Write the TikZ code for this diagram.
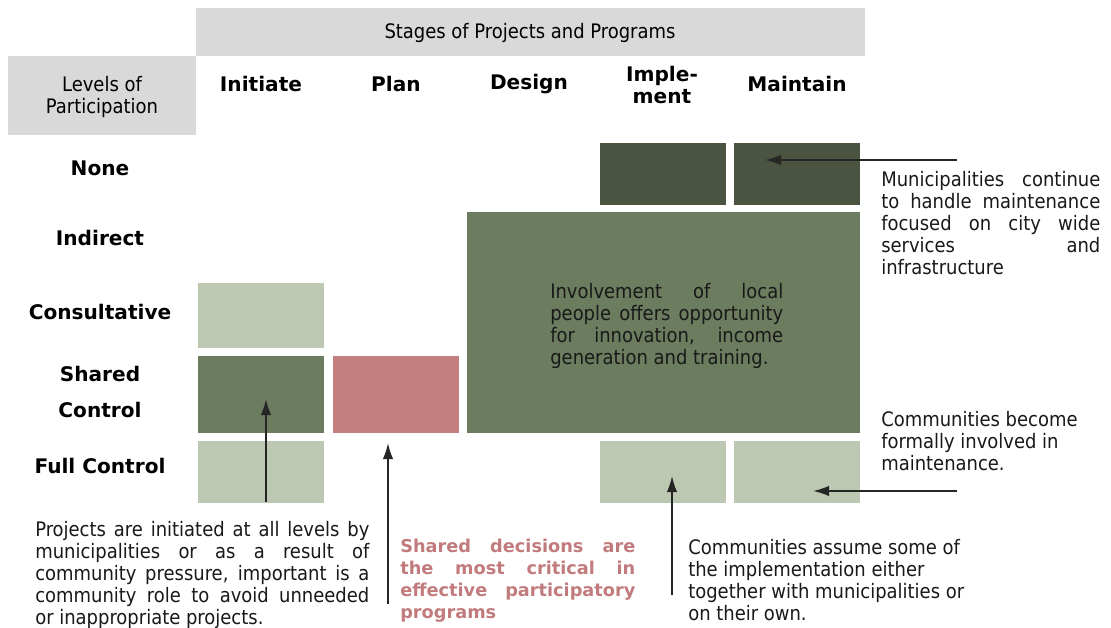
\documentclass[tikz,border=0pt]{standalone}
\usepackage{fontspec}
\setmainfont{DejaVu Sans Condensed}
\newfontfamily\headfont{DejaVu Sans}
\usepackage{xcolor}
\usepackage{tikz}
\usetikzlibrary{
    positioning,
    arrows.meta
}
\definecolor{hdrgray}{HTML}{D9D9D9}
\definecolor{darkolive}{HTML}{4B5441}
\definecolor{midolive}{HTML}{6B7C5F}
\definecolor{paleolive}{HTML}{BCC8B2}
\definecolor{rosecell}{HTML}{C47F7F}
\definecolor{rosetext}{HTML}{C27B7D}
\tikzset{
    hdrbox/.style={
        rectangle, fill=hdrgray, anchor=north west, inner sep=0pt
    },
    cellbox/.style={
        rectangle, anchor=north west, inner sep=0pt,
        minimum width=3.15cm
    },
    stagelabel/.style={
        font=\headfont\bfseries\fontsize{14.3}{15.5}\selectfont, align=center
    },
    levellabel/.style={
        font=\headfont\bfseries\fontsize{14.3}{26.3}\selectfont, align=center
    },
    note/.style={
        anchor=north west, inner sep=0pt,
        font=\fontsize{14.2}{15.6}\selectfont, text=black!90,
        execute at begin node={\hyphenpenalty=10000}
    },
    arrow/.style={
        -{Latex[length=4mm, width=2.6mm]}, line width=1.2pt, draw=black!85
    }
}

\begin{document}
\begin{tikzpicture}[x=0.025cm, y=-0.025cm,
    every node/.style={inner sep=0pt},
    shortcell/.style={cellbox, minimum height=1.55cm},
    tallcell/.style={cellbox, minimum height=1.925cm}
  ]
    \useasboundingbox (0,0) rectangle (1111,628);

    % header bars
    \node[hdrbox, minimum width=16.725cm, minimum height=1.2cm] (stagebar) at (196,8) {};
    \node[font=\fontsize{14.2}{15.6}\selectfont] (stagetitle) at (530,33) {Stages of Projects and Programs};
    \node[hdrbox, minimum width=4.7cm, minimum height=1.975cm] (levelbox) at (8,56) {};
    \node[align=center, font=\fontsize{14.2}{15.6}\selectfont] (leveltitle) at (102,97) {Levels of\\Participation};

    % stages
    \node[stagelabel] (initiate) at (261,84) {Initiate};
    \node[stagelabel] (plan) at (396,84) {Plan};
    \node[stagelabel] (design) at (529,84) {Design};
    \node[stagelabel] (implement) at (662,85) {Imple-\\ment};
    \node[stagelabel] (maintain) at (797,84) {Maintain};

    % levels
    \node[levellabel] (none) at (100,168) {None};
    \node[levellabel] (indirect) at (100,238) {Indirect};
    \node[levellabel] (consult) at (100,312) {Consultative};
    \node[levellabel] (shared) at (100,392) {Shared\\Control};
    \node[levellabel] (full) at (100,466) {Full Control};

    % cells
    \node[shortcell, fill=darkolive] (noneImpl) at (600,143) {};
    \node[shortcell, fill=darkolive] (noneMaint) at (734,143) {};
    \node[cellbox, fill=midolive, minimum width=9.825cm, minimum height=5.525cm] (bigblock) at (467,212) {};
    \node[cellbox, fill=paleolive, minimum height=1.625cm] (consInit) at (198,283) {};
    \node[tallcell, fill=midolive] (sharedInit) at (198,356) {};
    \node[tallcell, fill=rosecell] (sharedPlan) at (333,356) {};
    \node[shortcell, fill=paleolive] (fullInit) at (198,441) {};
    \node[shortcell, fill=paleolive] (fullImpl) at (600,441) {};
    \node[shortcell, fill=paleolive] (fullMaint) at (734,441) {};

    % notes
    \node[note, text width=5.825cm, align=justify] (localNote) at (550,283) {Involvement of local\linebreak people offers opportunity\linebreak for innovation, income\linebreak generation and training.};
    \node[note, text width=5.475cm, align=justify] (muniNote) at (881,171) {Municipalities continue\linebreak to handle maintenance\linebreak focused on city wide\linebreak services and\linebreak infrastructure};
    \node[note, align=left] (commMaintNote) at (881,411) {Communities become\\formally involved in\\maintenance.};
    \node[note, text width=8.35cm, align=justify] (projNote) at (35,521) {Projects are initiated at all levels by\linebreak municipalities or as a result of\linebreak community pressure, important is a\linebreak community role to avoid unneeded\linebreak or inappropriate projects.};
    \node[note, text width=5.875cm, align=justify, text=rosetext, font=\headfont\bfseries\fontsize{12.6}{15.6}\selectfont] (sharedNote) at (400,539) {Shared decisions are\linebreak the most critical in\linebreak effective participatory\linebreak programs};
    \node[note, align=left] (commImplNote) at (688,539) {Communities assume some of\\the implementation either\\together with municipalities or\\on their own.};

    % arrow ends
    \coordinate (muniStart) at (957,160);
    \coordinate (muniTip) at (765,160);
    \coordinate (projStart) at (266,502);
    \coordinate (projTip) at (266,399);
    \coordinate (sharedStart) at (388,604);
    \coordinate (sharedTip) at (388,443);
    \coordinate (implStart) at (672,595);
    \coordinate (implTip) at (672,476);
    \coordinate (maintStart) at (957,491);
    \coordinate (maintTip) at (813,491);

    \draw[arrow] (muniStart) -- (muniTip);
    \draw[arrow] (projStart) -- (projTip);
    \draw[arrow] (sharedStart) -- (sharedTip);
    \draw[arrow] (implStart) -- (implTip);
    \draw[arrow] (maintStart) -- (maintTip);

\end{tikzpicture}
\end{document}
